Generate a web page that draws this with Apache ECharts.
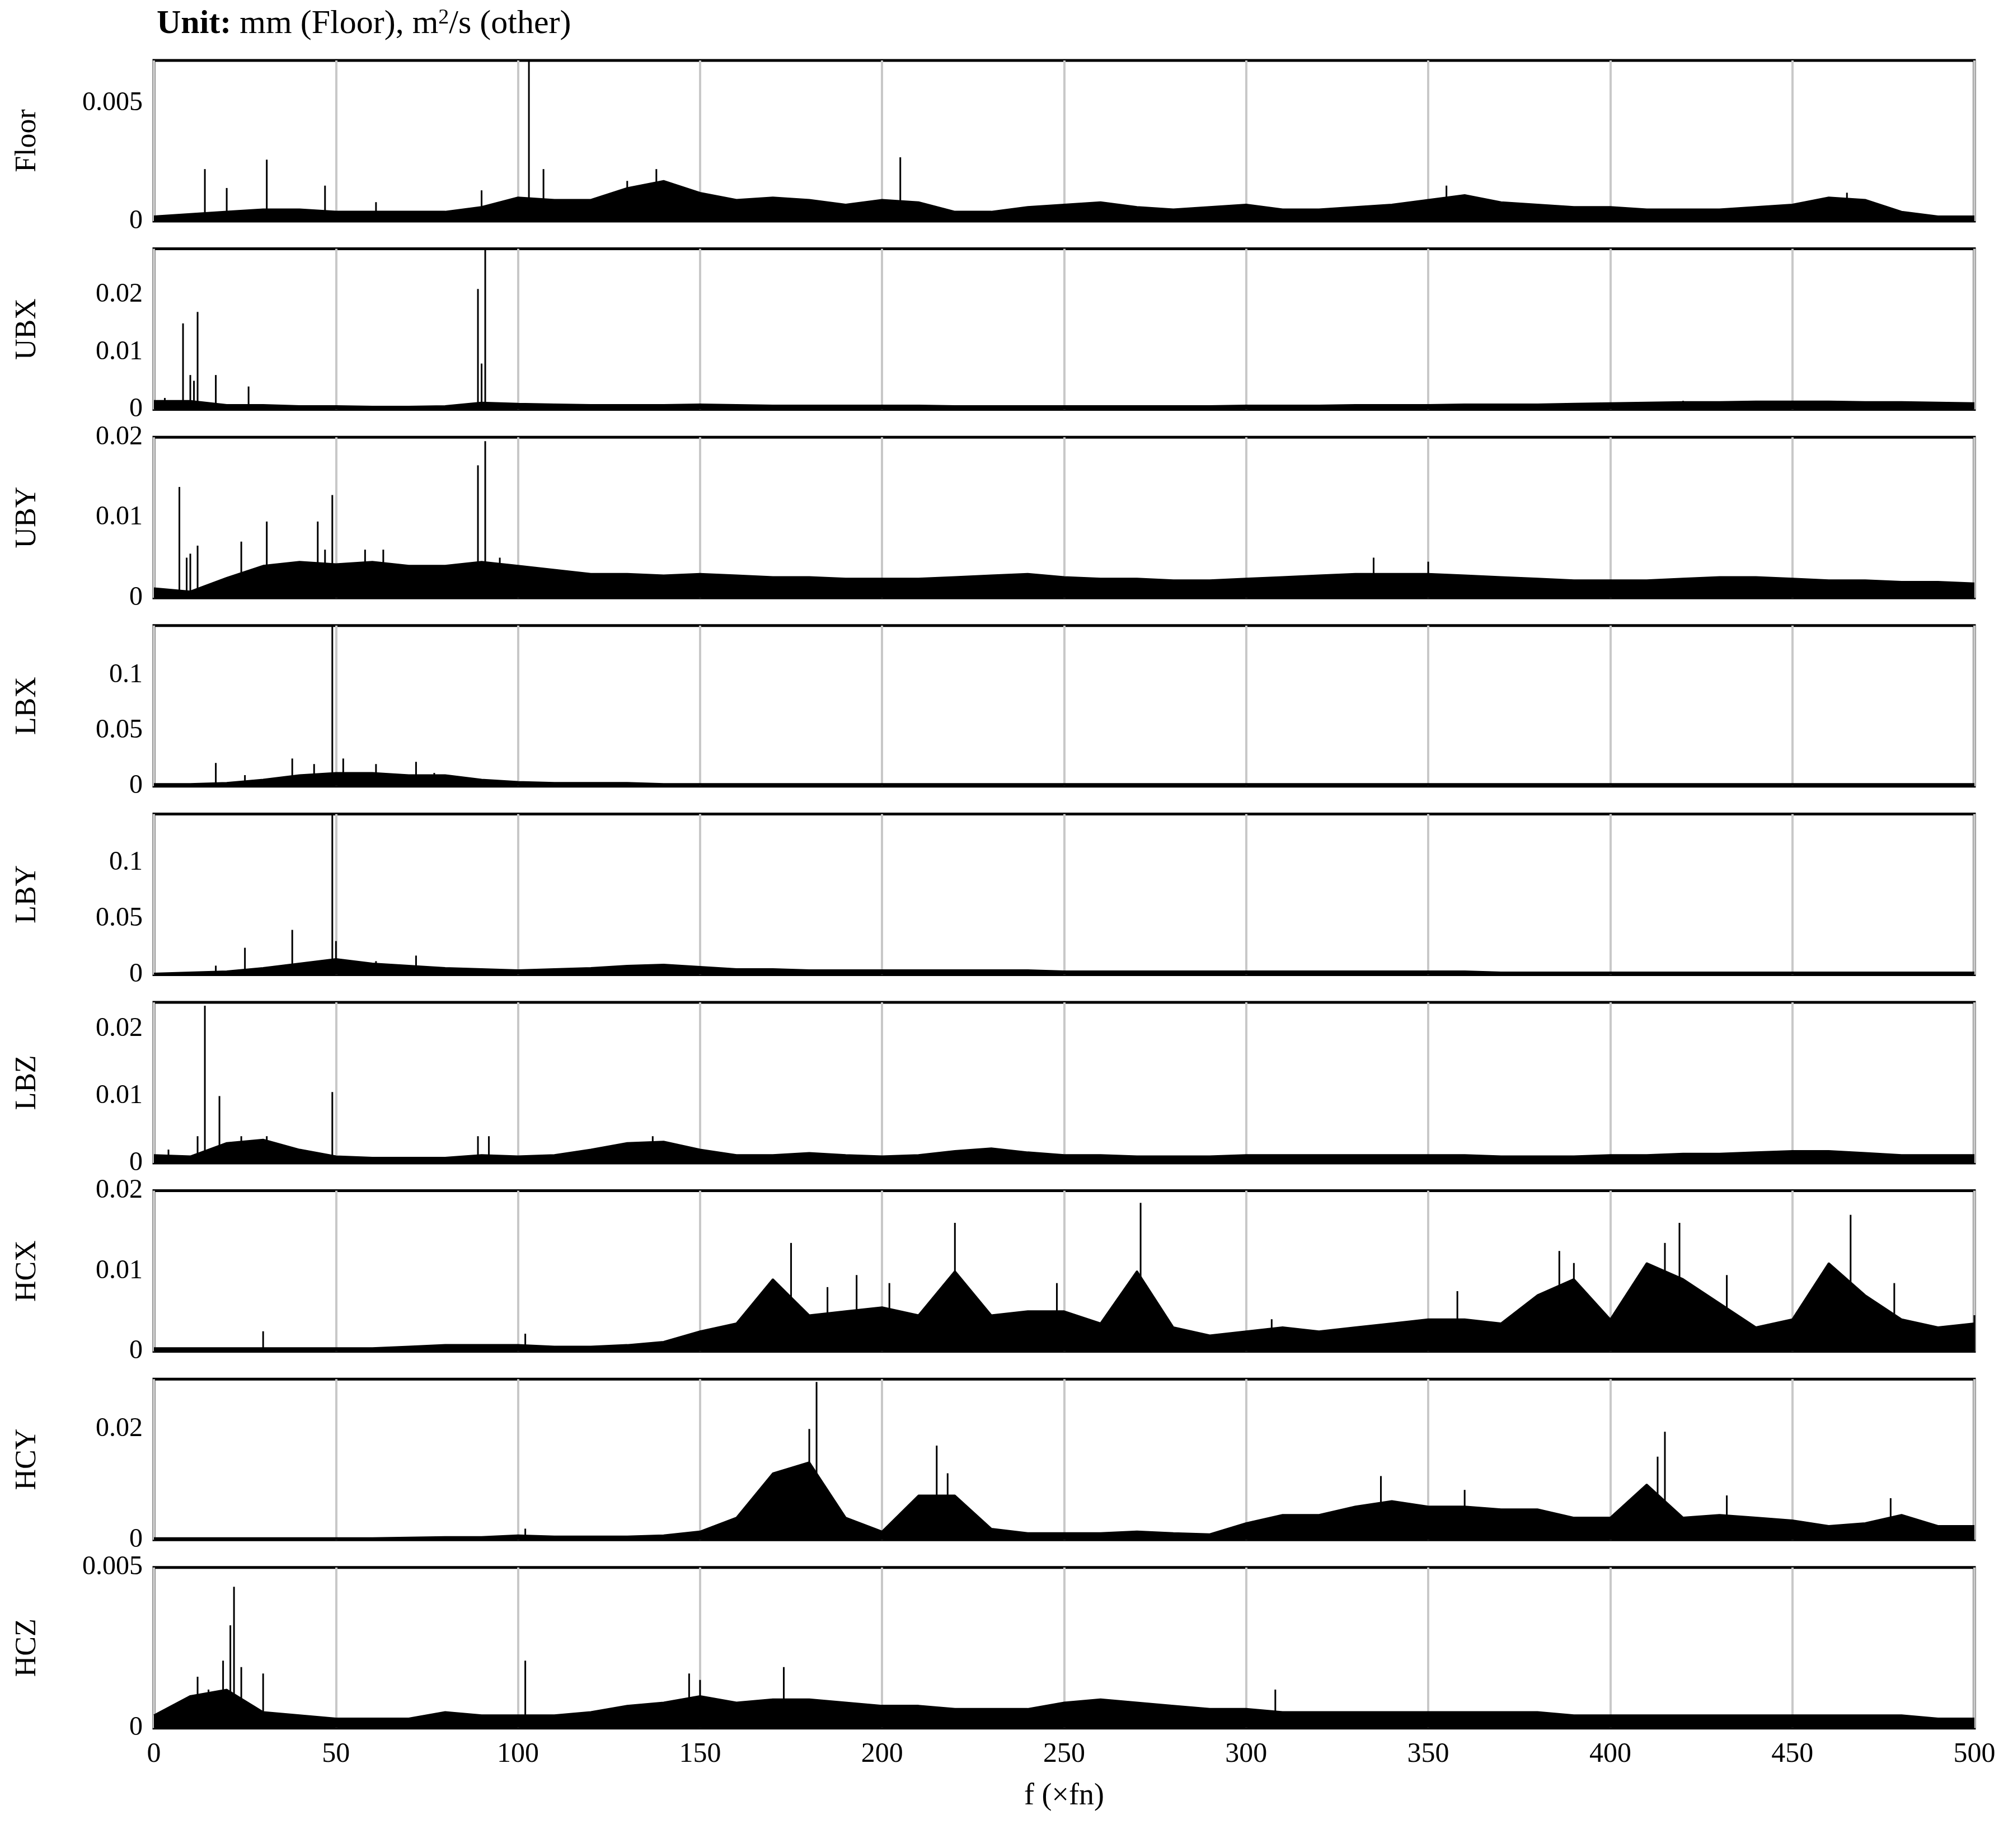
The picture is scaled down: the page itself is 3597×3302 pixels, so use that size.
<!DOCTYPE html>
<html><head><meta charset="utf-8">
<script src="https://cdn.jsdelivr.net/npm/echarts@6/dist/echarts.min.js"></script>
<style>html,body{margin:0;background:#fff}#c{width:3597px;height:3302px}</style>
</head><body><div id="c"></div>
<script>
const names=['Floor','UBX','UBY','LBX','LBY','LBZ','HCX','HCY','HCZ'];
const yMax=[0.0068,0.028,0.02,0.145,0.1437,0.024,0.02,0.029,0.005];
const yInt=[0.005,0.01,0.01,0.05,0.05,0.01,0.01,0.02,0.005];
const xTicks=[0,50,100,150,200,250,300,350,400,450,500];
// noise band level, every 10 fn from 0 to 500
const bandFloor=[.0002,.0003,.0004,.0005,.0005,.0004,.0004,.0004,.0004,.0006,.0010,.0009,.0009,.0014,.0017,.0012,.0009,.0010,.0009,.0007,.0009,.0008,.0004,.0004,.0006,.0007,.0008,.0006,.0005,.0006,.0007,.0005,.0005,.0006,.0007,.0009,.0011,.0008,.0007,.0006,.0006,.0005,.0005,.0005,.0006,.0007,.0010,.0009,.0004,.0002,.0002];
const bandUBX=[.0015,.0015,.0008,.0008,.0006,.0006,.0005,.0005,.0006,.0012,.0010,.0009,.0008,.0008,.0008,.0009,.0008,.0007,.0007,.0007,.0007,.0007,.0006,.0006,.0006,.0006,.0006,.0006,.0006,.0006,.0007,.0007,.0007,.0008,.0008,.0008,.0009,.0009,.0009,.0010,.0011,.0012,.0013,.0013,.0014,.0014,.0014,.0013,.0013,.0012,.0011];
const bandUBY=[.0012,.0008,.0025,.0040,.0045,.0042,.0045,.0040,.0040,.0045,.0040,.0035,.0030,.0030,.0028,.0030,.0028,.0026,.0026,.0024,.0024,.0024,.0026,.0028,.0030,.0026,.0024,.0024,.0022,.0022,.0024,.0026,.0028,.0030,.0030,.0030,.0028,.0026,.0024,.0022,.0022,.0022,.0024,.0026,.0026,.0024,.0022,.0022,.0020,.0020,.0018];
const bandLBX=[.002,.002,.003,.006,.010,.012,.012,.010,.010,.006,.004,.003,.003,.003,.002,.002,.002,.002,.002,.002,.002,.002,.002,.002,.002,.002,.002,.002,.002,.002,.002,.002,.002,.002,.002,.002,.002,.002,.002,.002,.002,.002,.002,.002,.002,.002,.002,.002,.002,.002,.002];
const bandLBY=[.001,.002,.003,.006,.010,.014,.010,.008,.006,.005,.004,.005,.006,.008,.009,.007,.005,.005,.004,.004,.004,.004,.004,.004,.004,.003,.003,.003,.003,.003,.003,.003,.003,.003,.003,.003,.003,.002,.002,.002,.002,.002,.002,.002,.002,.002,.002,.002,.002,.002,.002];
const bandLBZ=[.0012,.0010,.0030,.0035,.0020,.0010,.0008,.0008,.0008,.0012,.0010,.0012,.0020,.0030,.0032,.0020,.0012,.0012,.0015,.0012,.0010,.0012,.0018,.0022,.0016,.0012,.0012,.0010,.0010,.0010,.0012,.0012,.0012,.0012,.0012,.0012,.0012,.0010,.0010,.0010,.0012,.0012,.0014,.0014,.0016,.0018,.0018,.0015,.0012,.0012,.0012];
const bandHCX=[.0004,.0004,.0004,.0004,.0004,.0004,.0004,.0006,.0008,.0008,.0008,.0006,.0006,.0008,.0012,.0025,.0035,.0090,.0045,.0050,.0055,.0045,.0100,.0045,.0050,.0050,.0035,.0100,.0030,.0020,.0025,.0030,.0025,.0030,.0035,.0040,.0040,.0035,.0070,.0090,.0040,.0110,.0090,.0060,.0030,.0040,.0110,.0070,.0040,.0030,.0035];
const bandHCY=[.0003,.0003,.0003,.0003,.0003,.0003,.0003,.0004,.0005,.0005,.0008,.0006,.0006,.0006,.0008,.0015,.0040,.0120,.0140,.0040,.0015,.0080,.0080,.0020,.0012,.0012,.0012,.0015,.0012,.0010,.0030,.0045,.0045,.0060,.0070,.0060,.0060,.0055,.0055,.0040,.0040,.0100,.0040,.0045,.0040,.0035,.0025,.0030,.0045,.0025,.0025];
const bandHCZ=[.0004,.0010,.0012,.0005,.0004,.0003,.0003,.0003,.0005,.0004,.0004,.0004,.0005,.0007,.0008,.0010,.0008,.0009,.0009,.0008,.0007,.0007,.0006,.0006,.0006,.0008,.0009,.0008,.0007,.0006,.0006,.0005,.0005,.0005,.0005,.0005,.0005,.0005,.0005,.0004,.0004,.0004,.0004,.0004,.0004,.0004,.0004,.0004,.0004,.0003,.0003];
// spikes [f, amplitude]
const spkFloor=[[14,.0022],[20,.0014],[31,.0026],[47,.0015],[61,.0008],[90,.0013],[103,.0068],[107,.0022],[130,.0017],[138,.0022],[205,.0027],[355,.0015],[465,.0012]];
const spkUBX=[[3,.002],[8,.015],[10,.006],[11,.005],[12,.017],[17,.006],[26,.004],[89,.021],[90,.008],[91,.028],[420,.0015]];
const spkUBY=[[7,.0138],[9,.005],[10,.0055],[12,.0065],[24,.007],[31,.0095],[45,.0095],[47,.006],[49,.0128],[58,.006],[63,.006],[89,.0165],[91,.0195],[95,.005],[335,.005],[350,.0045]];
const spkLBX=[[17,.021],[25,.010],[38,.025],[44,.020],[49,.145],[52,.025],[61,.020],[72,.022],[77,.012]];
const spkLBY=[[17,.008],[25,.024],[38,.040],[49,.143],[50,.03],[61,.012],[72,.017]];
const spkLBZ=[[4,.002],[12,.004],[14,.0235],[18,.010],[24,.004],[31,.004],[49,.0106],[89,.004],[92,.004],[137,.004]];
const spkHCX=[[30,.0025],[102,.0022],[175,.0135],[185,.008],[193,.0095],[202,.0085],[220,.016],[248,.0085],[271,.0185],[307,.004],[358,.0075],[386,.0125],[390,.011],[415,.0135],[419,.016],[432,.0095],[466,.017],[478,.0085],[500,.0045]];
const spkHCY=[[102,.002],[180,.02],[182,.0285],[215,.017],[218,.012],[337,.0115],[360,.009],[413,.015],[415,.0195],[432,.008],[477,.0075]];
const spkHCZ=[[12,.0016],[15,.0012],[19,.0021],[21,.0032],[22,.0044],[24,.0019],[30,.0017],[102,.0021],[147,.0017],[150,.0015],[173,.0019],[308,.0012]];
const bands=[bandFloor,bandUBX,bandUBY,bandLBX,bandLBY,bandLBZ,bandHCX,bandHCY,bandHCZ];
const spikes=[spkFloor,spkUBX,spkUBY,spkLBX,spkLBY,spkLBZ,spkHCX,spkHCY,spkHCZ];

const F='Liberation Serif';
const grids=[],xAxes=[],yAxes=[],series=[];
names.forEach((n,i)=>{
  grids.push({left:275,width:3253,top:108+i*336.6,height:287,show:true,borderColor:'#000',borderWidth:5,backgroundColor:'transparent'});
  const last=i===names.length-1;
  xAxes.push({gridIndex:i,type:'value',min:0,max:500,interval:50,
    axisLine:{show:false},axisTick:{show:false},
    splitLine:{show:true,lineStyle:{color:'#c8c8c8',width:4}},
    axisLabel:{show:last,fontFamily:F,fontSize:50,color:'#000',margin:22,formatter:v=>xTicks.includes(v)?String(v):''},
    name:last?'f (×fn)':'',nameLocation:'middle',nameGap:95,nameTextStyle:{fontFamily:F,fontSize:54,color:'#000'}});
  yAxes.push({gridIndex:i,type:'value',min:0,max:yMax[i],interval:yInt[i],
    axisLine:{show:false},axisTick:{show:false},splitLine:{show:false},
    axisLabel:{fontFamily:F,fontSize:48,color:'#000',margin:20,showMaxLabel:Math.abs(yMax[i]/yInt[i]-Math.round(yMax[i]/yInt[i]))<1e-6,
      formatter:v=>v===0?'0':String(+v.toFixed(4))},
    name:n,nameLocation:'middle',nameGap:200,nameTextStyle:{fontFamily:F,fontSize:52,color:'#000'}});
  series.push({type:'line',xAxisIndex:i,yAxisIndex:i,symbol:'none',silent:true,
    data:bands[i].map((v,k)=>[k*10,v]),lineStyle:{color:'#000',width:3},areaStyle:{color:'#000',opacity:1}});
  series.push({type:'bar',xAxisIndex:i,yAxisIndex:i,barWidth:3,silent:true,
    data:spikes[i],itemStyle:{color:'#000'}});
});
const chart=echarts.init(document.getElementById('c'));
chart.setOption({animation:false,
  title:{left:275,top:8,text:'{b|Unit:} mm (Floor), m{s|2}/s (other)',
    textStyle:{fontFamily:F,fontSize:60,fontWeight:'normal',color:'#000',rich:{b:{fontFamily:F,fontSize:60,fontWeight:'bold'},s:{fontFamily:F,fontSize:38,verticalAlign:'top',lineHeight:44}}}},
  grid:grids,xAxis:xAxes,yAxis:yAxes,series});
</script></body></html>
